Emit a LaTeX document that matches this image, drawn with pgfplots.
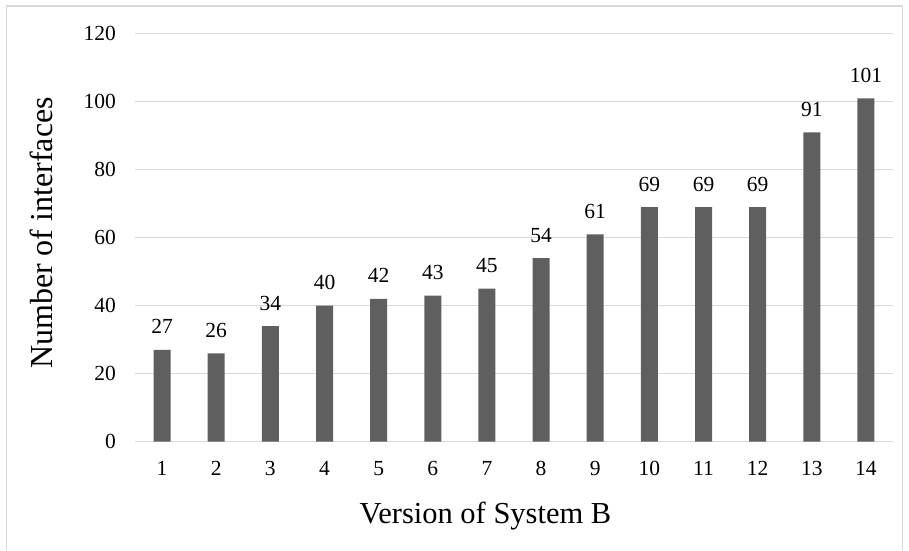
\documentclass[border=0pt]{standalone}
\usepackage{pgfplots}
\pgfplotsset{compat=1.18}
\usepackage{fontspec}
\setmainfont{Liberation Serif}
\definecolor{bargray}{HTML}{5F5F5F}
\definecolor{gridgray}{HTML}{D9D9D9}
\begin{document}
\begin{tikzpicture}[x=1pt,y=1pt]
\path[use as bounding box] (0,0) rectangle (909,550);
\draw[gridgray, line width=1.2pt] (6.5,0) -- (6.5,544) -- (902.5,544) -- (902.5,0);
\begin{axis}[
  at={(135pt,108.3pt)}, anchor=south west,
  scale only axis, width=758pt, height=408pt,
  xmin=0.5, xmax=14.5, ymin=0, ymax=120,
  enlargelimits=false,
  ybar, bar width=17pt,
  separate axis lines,
  axis x line=bottom, axis y line=left,
  x axis line style={draw=gridgray, line width=1.2pt, -},
  y axis line style={draw=none},
  major tick length=0pt,
  ytick={0,20,...,120}, xtick={1,...,14},
  ymajorgrids, grid style={draw=gridgray, line width=1.2pt},
  /pgf/number format/assume math mode=true,
  tick label style={font=\fontsize{21.5}{22}\selectfont, text=black, inner sep=0pt},
  xticklabel style={text height=14.5pt, text depth=0pt},
  yticklabel shift=19pt,
  xticklabel shift=19pt,
  nodes near coords,
  every node near coord/.append style={font=\fontsize{21.5}{22}\selectfont, text=black, inner sep=0pt, anchor=base, yshift=16pt},
  xlabel={Version of System B},
  ylabel={Number of interfaces},
  xlabel style={font=\fontsize{30.5}{31}\selectfont, at={(axis description cs:0.4624,-0.1993)}, anchor=base, inner sep=0pt},
  ylabel style={font=\fontsize{32}{33}\selectfont, at={(axis description cs:-0.1095,0.5115)}, anchor=base, inner sep=0pt},
]
\addplot[draw=none, fill=bargray] coordinates {
(1,27) (2,26) (3,34) (4,40) (5,42) (6,43) (7,45)
(8,54) (9,61) (10,69) (11,69) (12,69) (13,91) (14,101)
};
\end{axis}
\end{tikzpicture}
\end{document}
